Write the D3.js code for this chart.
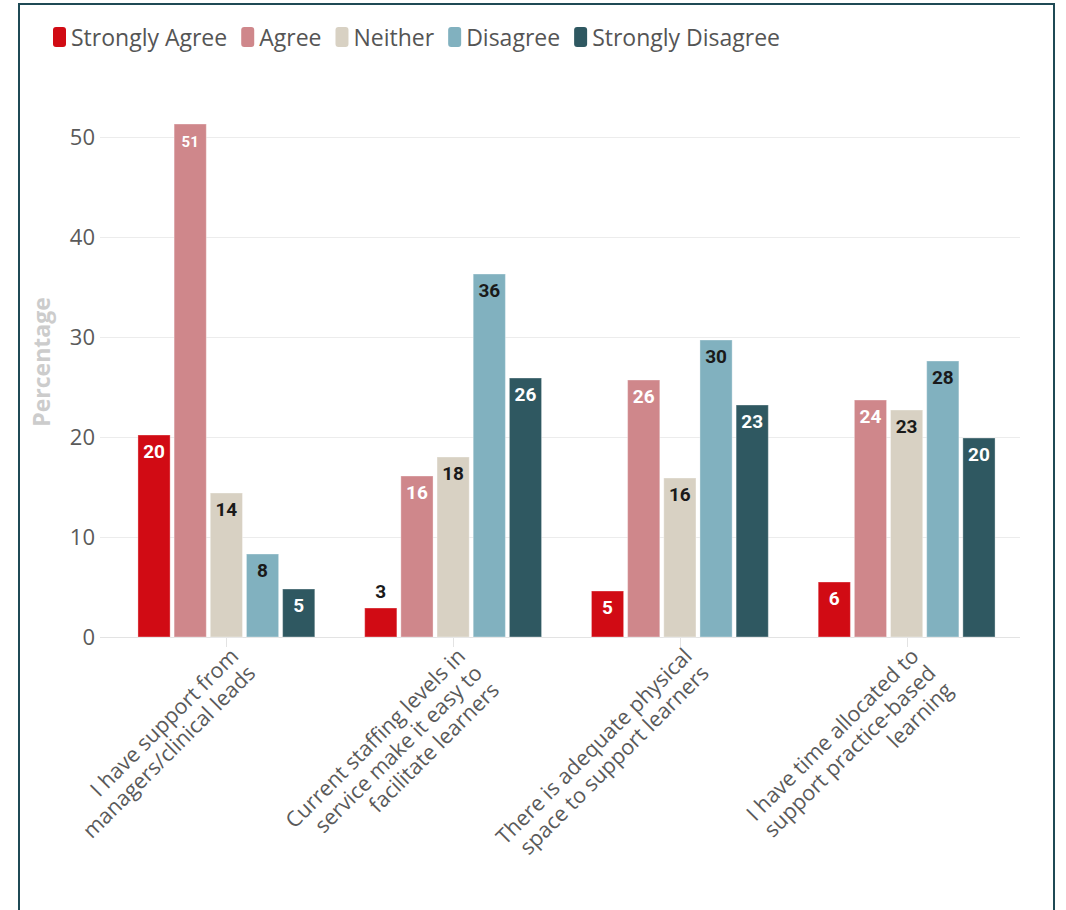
<!DOCTYPE html>
<html>
<head>
<meta charset="utf-8">
<script src="https://cdn.jsdelivr.net/npm/d3@7"></script>
<style>
  html, body { margin: 0; padding: 0; background: #fff; }
  svg { display: block; }
</style>
</head>
<body>
<svg id="chart" width="1066" height="910"></svg>
<script>
// ---- Data ----
const categories = [
  ["I have support from", "managers/clinical leads"],
  ["Current staffing levels in", "service make it easy to", "facilitate learners"],
  ["There is adequate physical", "space to support learners"],
  ["I have time allocated to", "support practice-based", "learning"]
];
const seriesNames = ["Strongly Agree", "Agree", "Neither", "Disagree", "Strongly Disagree"];
const stronglyAgree    = [20.2, 2.9, 4.6, 5.5];
const agree            = [51.3, 16.1, 25.7, 23.7];
const neither          = [14.4, 18.0, 15.9, 22.7];
const disagree         = [8.3, 36.3, 29.7, 27.6];
const stronglyDisagree = [4.8, 25.9, 23.2, 19.9];
const yTicks = [0, 10, 20, 30, 40, 50];

const seriesValues = [stronglyAgree, agree, neither, disagree, stronglyDisagree];
const colors = ["#d10b14", "#cf878b", "#d8d1c3", "#81b1bf", "#2f5861"];
const labelColors = ["#ffffff", "#ffffff", "#1a1a1a", "#1a1a1a", "#ffffff"];

const svg = d3.select("#chart");
const font = "'Open Sans', 'Noto Sans', sans-serif";

// Border
svg.append("rect")
  .attr("x", 19).attr("y", 4)
  .attr("width", 1035).attr("height", 920)
  .attr("fill", "none").attr("stroke", "#1f4a55").attr("stroke-width", 2);

// Scales
const catIdx = categories.map((d, i) => i);
const x0 = d3.scaleBand().domain(catIdx).range([113, 1020]).paddingInner(0.22).paddingOuter(0.11);
const x1 = d3.scaleBand().domain(seriesNames).range([0, x0.bandwidth()]).paddingInner(0.11).paddingOuter(0);
const y = d3.scaleLinear().domain([0, 50]).range([637, 137]);

// Gridlines
svg.append("g").selectAll("line").data(yTicks).join("line")
  .attr("x1", 100).attr("x2", 1020)
  .attr("y1", d => Math.round(y(d)) + 0.5).attr("y2", d => Math.round(y(d)) + 0.5)
  .attr("stroke", d => d === 0 ? "#e3e3e3" : "#ececec").attr("stroke-width", 1);

// Y axis
const yAxis = d3.axisLeft(y).tickValues(yTicks).tickSize(0).tickPadding(0);
const yg = svg.append("g").attr("transform", "translate(95,0)").call(yAxis);
yg.select(".domain").remove();
yg.selectAll("text")
  .attr("font-family", font).attr("font-size", 22).attr("fill", "#5a5a5a").attr("dy", "0.36em");

// Y title
svg.append("text")
  .attr("transform", "translate(50,362) rotate(-90)")
  .attr("text-anchor", "middle")
  .attr("font-family", font).attr("font-weight", 700).attr("font-size", 23)
  .attr("fill", "#cccccc")
  .text("Percentage");

// X axis ticks
const xg = svg.append("g");
xg.selectAll("line").data(catIdx).join("line")
  .attr("x1", d => Math.round(x0(d) + x0.bandwidth() / 2) + 0.5)
  .attr("x2", d => Math.round(x0(d) + x0.bandwidth() / 2) + 0.5)
  .attr("y1", 637).attr("y2", 647)
  .attr("stroke", "#e3e3e3");

// X labels (rotated)
const xl = xg.selectAll("text").data(catIdx).join("text")
  .attr("transform", d => `translate(${x0(d) + x0.bandwidth() / 2},637) rotate(-45)`)
  .attr("text-anchor", "end")
  .attr("font-family", font).attr("font-size", 21.5).attr("fill", "#5a5a5a");
xl.each(function(d) {
  const t = d3.select(this);
  categories[d].forEach((line, i) => {
    t.append("tspan").attr("x", -5).attr("y", 24 + i * 24).text(line);
  });
});

// Bars
const groups = svg.append("g").selectAll("g").data(catIdx).join("g")
  .attr("transform", d => `translate(${x0(d)},0)`);

const barData = ci => seriesNames.map((s, si) => ({ s, si, v: seriesValues[si][ci] }));

groups.selectAll("rect").data(ci => barData(ci)).join("rect")
  .attr("x", d => x1(d.s))
  .attr("width", x1.bandwidth())
  .attr("y", d => y(d.v))
  .attr("height", d => y(0) - y(d.v))
  .attr("fill", d => colors[d.si])
  .attr("stroke", "rgba(255,255,255,0.35)").attr("stroke-width", 1);

const fmt = d3.format(".0f");
groups.selectAll("text").data(ci => barData(ci)).join("text")
  .attr("x", d => x1(d.s) + x1.bandwidth() / 2)
  .attr("y", d => (y(0) - y(d.v)) < 35 ? y(d.v) - 10 : y(d.v) + 23)
  .attr("text-anchor", "middle")
  .attr("font-family", "'Roboto', 'Open Sans', sans-serif")
  .attr("font-weight", 700)
  .attr("font-size", d => d.v > 50 ? 15 : 19)
  .attr("fill", d => (y(0) - y(d.v)) < 35 ? "#1a1a1a" : labelColors[d.si])
  .text(d => fmt(d.v));

// Legend
const lg = svg.append("g").attr("transform", "translate(53,0)");
let lx = 0;
seriesNames.forEach((s, i) => {
  lg.append("rect").attr("x", lx).attr("y", 27).attr("width", 13).attr("height", 20)
    .attr("rx", 3).attr("fill", colors[i]);
  const t = lg.append("text").attr("x", lx + 18).attr("y", 46)
    .attr("font-family", font).attr("font-size", 23).attr("fill", "#555").text(s);
  lx += 18 + t.node().getComputedTextLength() + 14;
});
</script>
</body>
</html>
